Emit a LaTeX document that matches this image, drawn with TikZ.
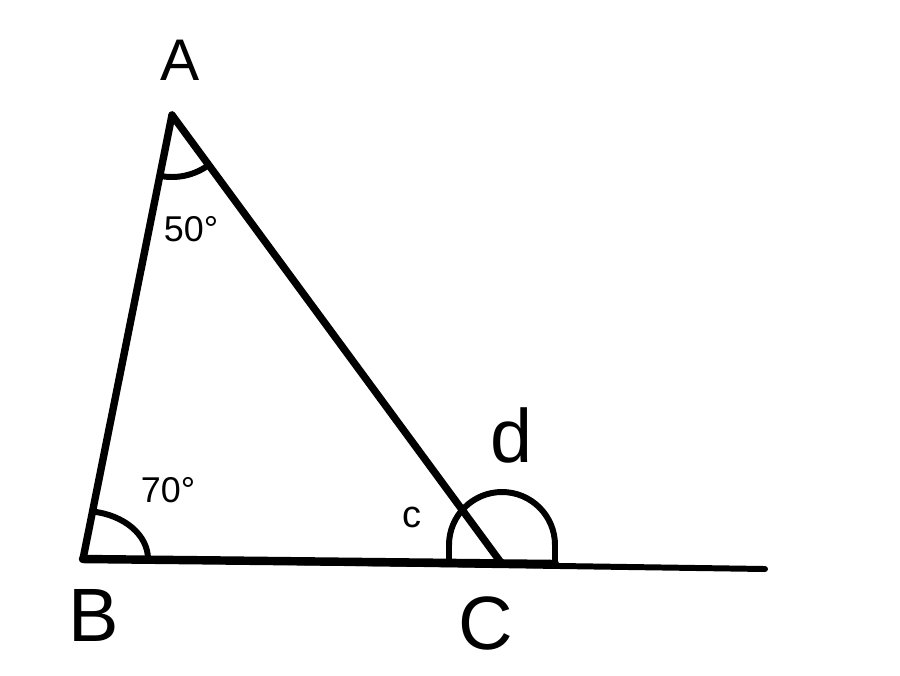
\documentclass[tikz,border=0pt]{standalone}
\usepackage{fontspec}
\setmainfont{Liberation Sans}
\usetikzlibrary{calc}
\tikzset{
  side/.style={line width=2.1pt},
  mark arc/.style={line width=1.7pt},
  vlabel/.style={font=\fontsize{21.5}{22}\selectfont, inner sep=0pt},
  alabel/.style={font=\fontsize{10.2}{11}\selectfont, inner sep=0pt}
}
\begin{document}
\begin{tikzpicture}[line cap=round,line join=round,x=0.01cm,y=-0.01cm]
\useasboundingbox (0,0) rectangle (900,675);
\coordinate (A) at (172,115);
\coordinate (B) at (83,559);
\coordinate (C) at (502,564);
\coordinate (E) at (765,569);
\coordinate (F) at (555,564);
% sides
\draw [line width=1.7pt] (B)-- (E);
\draw [line width=2.4pt] (B)-- (F);
\draw [side] (B)-- (A);
\draw [side] (A)-- (C);
% angle marks
\draw [mark arc] (A) ++(101.3:62) arc[start angle=101.3, end angle=53.6, radius=62];
\draw [mark arc] (B) ++(65,0) arc[start angle=0, end angle=-81.6, x radius=65, y radius=48];
\draw [mark arc] (C) ++(-53,0) -- ++(0,-19) arc[start angle=180, end angle=360, radius=53] -- (F);
% labels
\node [vlabel, font=\fontsize{16.7}{17}\selectfont] (lA) at (180,60) {A};
\node [vlabel] (lB) at (94,615) {B};
\node [vlabel] (lC) at (486,623) {C};
\node [vlabel] (ld) at (512,435) {d};
\node [alabel] (l50) at (191,229) {50°};
\node [alabel] (l70) at (168,490) {70°};
\node [alabel, font=\fontsize{10.8}{11}\selectfont] (lc) at (412,517) {c};
\end{tikzpicture}
\end{document}
